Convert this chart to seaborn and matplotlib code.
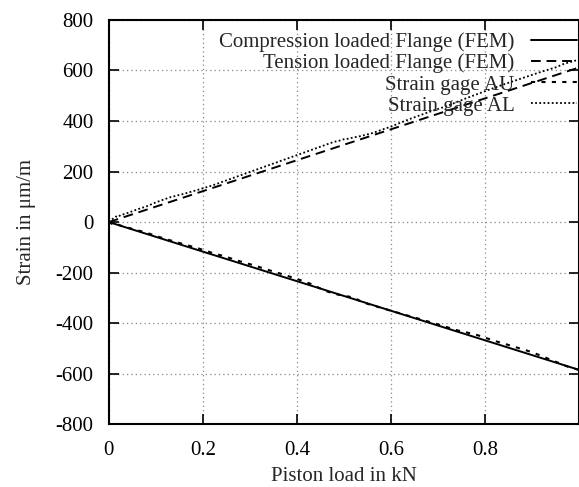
import numpy as np
import pandas as pd
import matplotlib
matplotlib.use("Agg")
import matplotlib.pyplot as plt
import seaborn as sns

# FEM results (linear)
fem_load = [0.0, 1.0]
fem_compression = [0.0, -585.0]
fem_tension = [0.0, 612.0]

# Strain gage AU (negative branch)
au_load = [0.0, 0.005, 0.01, 0.02, 0.03, 0.04, 0.06, 0.08, 0.10, 0.13, 0.16, 0.19,
           0.22, 0.25, 0.28, 0.31, 0.34, 0.37, 0.40, 0.43, 0.46, 0.47, 0.48, 0.49,
           0.50, 0.51, 0.52, 0.54, 0.58, 0.62, 0.66, 0.70, 0.74, 0.78, 0.82, 0.86,
           0.90, 0.94, 0.96, 0.97, 0.98, 0.99, 1.0]
au_strain = [0, -5, -12, -10, -18, -22, -32, -42, -55, -72, -88, -104,
             -122, -138, -156, -172, -190, -207, -225, -245, -272, -278, -284, -288,
             -292, -295, -298, -318, -340, -362, -383, -405, -428, -445, -470, -492,
             -515, -545, -560, -568, -575, -580, -585]

# Strain gage AL (positive branch)
al_load = [0.0, 0.005, 0.01, 0.015, 0.02, 0.025, 0.03, 0.04, 0.06, 0.08, 0.10, 0.13,
           0.16, 0.19, 0.22, 0.25, 0.28, 0.31, 0.34, 0.37, 0.40, 0.43, 0.46, 0.47,
           0.48, 0.49, 0.50, 0.51, 0.52, 0.53, 0.56, 0.60, 0.64, 0.68, 0.72, 0.76,
           0.80, 0.84, 0.88, 0.92, 0.95, 0.96, 0.97, 0.98, 0.99, 1.0]
al_strain = [0, 8, 15, 22, 20, 28, 30, 36, 50, 62, 78, 98,
             112, 128, 145, 165, 185, 205, 225, 245, 265, 285, 305, 312,
             318, 322, 328, 330, 335, 338, 352, 378, 408, 435, 460, 490,
             518, 545, 570, 595, 612, 620, 628, 632, 638, 642]

x_ticks = [0, 0.2, 0.4, 0.6, 0.8]
x_ticklabels = ["0", "0.2", "0.4", "0.6", "0.8"]
y_ticks = [-800, -600, -400, -200, 0, 200, 400, 600, 800]

sns.set_style("ticks")
plt.rcParams['font.family'] = ['Liberation Serif', 'DejaVu Serif']
plt.rcParams['axes.unicode_minus'] = False

fig = plt.figure(figsize=(5.79, 4.87), dpi=100)
ax = fig.add_axes([0.188, 0.129, 0.812, 0.830])

sns.lineplot(x=fem_load, y=fem_compression, ax=ax, color='black', lw=1.4,
             linestyle='-', label='Compression loaded Flange (FEM)', estimator=None, sort=False)
sns.lineplot(x=fem_load, y=fem_tension, ax=ax, color='black', lw=1.4,
             linestyle=(0, (5, 3)), label='Tension loaded Flange (FEM)', estimator=None, sort=False)
sns.lineplot(x=au_load, y=au_strain, ax=ax, color='black', lw=1.5,
             linestyle=(0, (2, 3)), label='Strain gage AU', estimator=None, sort=False)
sns.lineplot(x=al_load, y=al_strain, ax=ax, color='black', lw=1.3,
             linestyle=(0, (1, 1.3)), label='Strain gage AL', estimator=None, sort=False)

ax.set_xlim(0, 1.0)
ax.set_ylim(-800, 800)
ax.set_xticks(x_ticks)
ax.set_xticklabels(x_ticklabels)
ax.set_yticks(y_ticks)
ax.tick_params(direction='in', length=7, width=1.2, top=True, right=True,
               labelsize=15, colors='black')
ax.tick_params(axis='y', pad=11)
ax.tick_params(axis='x', pad=12)
ax.grid(True, color='#888888', linestyle=(0, (1, 2.5)), linewidth=0.9)
for s in ax.spines.values():
    s.set_linewidth(1.5)
    s.set_color('black')

ax.set_xlabel('Piston load in kN', fontsize=15, labelpad=5)
ax.set_ylabel('Strain in μm/m', fontsize=15, labelpad=14)

leg = ax.legend(loc='upper right', bbox_to_anchor=(1.0, 0.975), frameon=False,
                markerfirst=False, fontsize=15,
                handlelength=2.2, labelspacing=0.08, borderaxespad=0.0,
                handletextpad=0.8, borderpad=0.1)

fig.savefig('out.png', dpi=100)
